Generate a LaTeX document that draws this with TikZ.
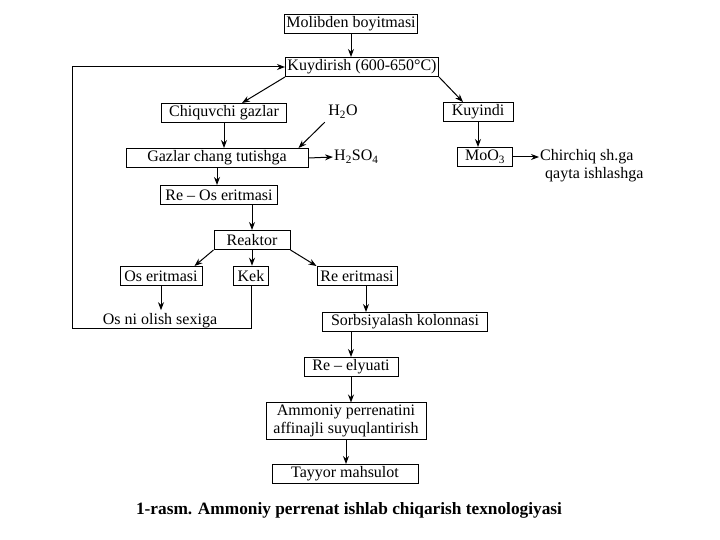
\documentclass[tikz,border=0pt]{standalone}
\usepackage{fontspec}
\setmainfont{Liberation Serif}
\usetikzlibrary{arrows.meta,positioning,calc}

\begin{document}
\begin{tikzpicture}[x=1pt,y=-1pt,
  font=\fontsize{16}{18}\selectfont,
  box/.style={draw, line width=1pt, minimum height=19pt, inner sep=2pt},
  arr/.style={-{Stealth[length=8pt,width=6pt]}, line width=1pt}]
\useasboundingbox (0,0) rectangle (720,540);
\node[box, minimum width=131pt] (mol) at (351,24) {Molibden boyitmasi};
\node[box, minimum width=152pt] (kuy) at (362,67) {Kuydirish (600-650°C)};
\node[box, minimum width=125pt] (chiq) at (224,113) {Chiquvchi gazlar};
\node[box, minimum width=70pt] (kuyin) at (478,112) {Kuyindi};
\node (h2o) at (343,112) {H\textsubscript{2}O};
\node[box, minimum width=182pt] (gaz) at (217,158) {Gazlar chang tutishga};
\node[anchor=west, inner sep=1pt] (h2so4) at (333,157) {H\textsubscript{2}SO\textsubscript{4}};
\node[box, minimum width=55pt] (moo) at (485,157) {MoO\textsubscript{3}};
\node[anchor=north west, align=left, inner sep=1pt] (chir) at (539,148) {Chirchiq sh.ga\\\hspace*{5pt}qayta ishlashga};
\node[box, minimum width=117pt] (reos) at (219,195) {Re -- Os eritmasi};
\node[box, minimum width=76pt] (reak) at (252,240) {Reaktor};
\node[box, minimum width=82pt] (oser) at (161,276) {Os eritmasi};
\node[box, minimum width=35pt, line width=1.6pt] (kek) at (251,276) {Kek};
\node[box, minimum width=80pt] (reer) at (357,276) {Re eritmasi};
\node (osni) at (160,321) {Os ni olish sexiga};
\node[box, minimum width=165pt] (sorb) at (405,322) {Sorbsiyalash kolonnasi};
\node[box, minimum width=94pt] (reel) at (351,367) {Re -- elyuati};
\node[box, minimum width=160pt, align=center] (amm) at (346,421) {Ammoniy perrenatini\\affinajli suyuqlantirish};
\node[box, minimum width=146pt] (tay) at (345,474) {Tayyor mahsulot};
\node[font=\fontsize{17.3}{19}\selectfont\bfseries] (cap) at (349,510) {1-rasm. Ammoniy perrenat ishlab chiqarish texnologiyasi};
\coordinate (ret) at (72,328);

\draw[arr] (mol.south) -- (mol.south |- kuy.north);
\draw[arr] (kuy.south west) -- ([xshift=18pt]chiq.north);
\draw[arr] (kuy.south east) -- ([xshift=-15pt]kuyin.north);
\draw[arr] (chiq.south) -- (chiq.south |- gaz.north);
\draw[arr] (h2o.south west) -- ([xshift=-10pt]gaz.north east);
\draw[arr] (gaz.east) -- (h2so4.west);
\draw[arr] (gaz.south) -- (gaz.south |- reos.north);
\draw[arr] (kuyin.south) -- (kuyin.south |- moo.north);
\draw[arr] (moo.east) -- (moo.east -| chir.west);
\draw[arr] (reak.north |- reos.south) -- (reak.north);
\draw[arr] (reak.south west) -- ([xshift=-8pt]oser.north east);
\draw[arr] (reak.south) -- (reak.south |- kek.north);
\draw[arr] (reak.south east) -- (reer.north west);
\draw[arr] (oser.south) -- (oser.south |- osni.north);
\draw[arr] (kek.south) -- (kek.south |- ret) -- (ret) |- (kuy.west);
\draw[arr] ([xshift=9pt]reer.south) -- ([xshift=9pt]reer.south |- sorb.north);
\draw[arr] (reel.north |- sorb.south) -- (reel.north);
\draw[arr] (reel.south) -- (reel.south |- amm.north);
\draw[arr] (amm.south) -- (amm.south |- tay.north);
\end{tikzpicture}
\end{document}
